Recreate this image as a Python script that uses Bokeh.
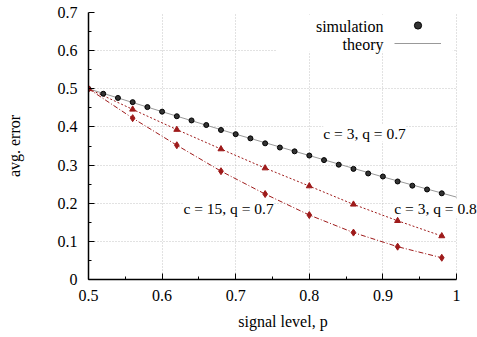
from bokeh.plotting import figure
from bokeh.models import Range1d, FixedTicker, Legend, LegendItem, Label, BoxAnnotation
from bokeh.embed import file_html
from bokeh.resources import INLINE

# ---- data ----
p_sim = [0.50, 0.52, 0.54, 0.56, 0.58, 0.60, 0.62, 0.64, 0.66, 0.68, 0.70, 0.72, 0.74,
         0.76, 0.78, 0.80, 0.82, 0.84, 0.86, 0.88, 0.90, 0.92, 0.94, 0.96, 0.98]
err_sim = [0.500, 0.487, 0.476, 0.465, 0.452, 0.440, 0.428, 0.417, 0.405, 0.392, 0.381, 0.370, 0.357,
           0.346, 0.336, 0.325, 0.313, 0.301, 0.290, 0.278, 0.270, 0.257, 0.246, 0.236, 0.226]

p_theory = [0.5, 0.6, 0.7, 0.8, 0.9, 1.0]
err_theory = [0.500, 0.440, 0.381, 0.325, 0.269, 0.216]

p_coarse = [0.50, 0.56, 0.62, 0.68, 0.74, 0.80, 0.86, 0.92, 0.98]
err_c3_q08 = [0.500, 0.446, 0.393, 0.342, 0.292, 0.245, 0.197, 0.154, 0.114]
err_c15_q07 = [0.500, 0.423, 0.352, 0.284, 0.224, 0.169, 0.123, 0.086, 0.057]

x_ticks = [0.5, 0.6, 0.7, 0.8, 0.9, 1.0]
x_tick_labels = ["0.5", "0.6", "0.7", "0.8", "0.9", "1"]
x_minor = [0.55, 0.65, 0.75, 0.85, 0.95]
y_ticks = [0.0, 0.1, 0.2, 0.3, 0.4, 0.5, 0.6, 0.7]
y_tick_labels = ["0", "0.1", "0.2", "0.3", "0.4", "0.5", "0.6", "0.7"]
y_minor = [0.05, 0.15, 0.25, 0.35, 0.45, 0.55, 0.65]

FONT = "Liberation Serif"
RED = "#9e1a1a"

# frame spans 0.5..1.0 over 368 px; it is widened to the page edge so the
# right-hand label is not clipped (axis and grids are bounded at 1.0)
X_END = 0.5 + 389 / 736

p = figure(width=477, height=337, output_backend="svg", toolbar_location=None,
           x_range=Range1d(0.5, X_END), y_range=Range1d(0.0, 0.7),
           min_border_left=88, min_border_right=0, min_border_top=12, min_border_bottom=58,
           x_axis_label="signal level, p", y_axis_label="avg. error")
p.outline_line_color = None
p.background_fill_color = "white"
p.border_fill_color = "white"

p.xaxis.ticker = FixedTicker(ticks=x_ticks, minor_ticks=x_minor)
p.yaxis.ticker = FixedTicker(ticks=y_ticks, minor_ticks=y_minor)
p.xaxis.major_label_overrides = dict(zip(x_ticks, x_tick_labels))
p.yaxis.major_label_overrides = dict(zip(y_ticks, y_tick_labels))
p.xaxis.bounds = (x_ticks[0], x_ticks[-1])

for ax in (p.xaxis[0], p.yaxis[0]):
    ax.axis_line_color = "black"
    ax.axis_line_width = 1.5
    ax.major_tick_in = 6
    ax.major_tick_out = 0
    ax.minor_tick_in = 3
    ax.minor_tick_out = 0
    ax.major_tick_line_color = "black"
    ax.minor_tick_line_color = "black"
    ax.major_label_text_font = FONT
    ax.major_label_text_font_size = "16px"
    ax.major_label_text_color = "black"
    ax.axis_label_text_font = FONT
    ax.axis_label_text_font_size = "16px"
    ax.axis_label_text_font_style = "normal"
    ax.axis_label_text_color = "black"

p.xaxis.major_label_standoff = 10
p.xaxis.axis_label_standoff = 9
p.yaxis.major_label_standoff = 11
p.yaxis.axis_label_standoff = 32

for g in (p.xgrid[0], p.ygrid[0]):
    g.grid_line_color = "#c4c4c4"
    g.grid_line_dash = "1 2"
    g.grid_line_width = 1
p.xgrid.ticker = FixedTicker(ticks=x_ticks)
p.ygrid.ticker = FixedTicker(ticks=y_ticks)
p.ygrid.cross_bounds = (x_ticks[0], x_ticks[-1])

# opaque key box (hides grid lines behind the key)
p.add_layout(BoxAnnotation(left=0.755, right=0.995, bottom=0.597, top=0.694,
                           fill_color="white", fill_alpha=1.0, line_alpha=0,
                           level="underlay"))

# theory curves
r_th = p.line(p_theory, err_theory, line_color="#999999", line_width=1)
p.line(p_coarse, err_c3_q08, line_color=RED, line_width=1, line_dash="2 2")
p.line(p_coarse, err_c15_q07, line_color=RED, line_width=1, line_dash="5 2 1 2")

# simulation points
r_sim = p.scatter(p_sim, err_sim, marker="circle", size=5, fill_color="#333333",
                  line_color="black", line_width=1)
p.scatter(p_coarse, err_c3_q08, marker="triangle", size=6, fill_color=RED, line_color=RED)
p.scatter(p_coarse, err_c15_q07, marker="diamond", size=7, fill_color=RED, line_color=RED)

# annotations
for (tx, ty, txt) in [(0.819, 0.384, "c = 3, q = 0.7"),
                      (0.9155, 0.187, "c = 3, q = 0.8"),
                      (0.629, 0.187, "c = 15, q = 0.7")]:
    p.add_layout(Label(x=tx, y=ty, text=txt, text_font=FONT, text_font_size="15.5px",
                       text_align="left", text_baseline="middle", text_color="black",
                       background_fill_color="white", background_fill_alpha=1.0))

# key: texts on the left, samples on the right
for (tx, ty, txt) in [(0.9008, 0.664, "simulation"), (0.9008, 0.617, "theory")]:
    p.add_layout(Label(x=tx, y=ty, text=txt, text_font=FONT, text_font_size="16px",
                       text_align="right", text_baseline="middle", text_color="black"))

legend = Legend(items=[LegendItem(label=" ", renderers=[r_sim]),
                       LegendItem(label=" ", renderers=[r_th])],
                location=(306, 227), glyph_width=47, glyph_height=18, label_height=18,
                spacing=0, padding=0, margin=0, label_standoff=0,
                border_line_alpha=0, background_fill_alpha=0,
                label_text_font_size="4px")
p.add_layout(legend)

open("out.html", "w").write(file_html(p, INLINE))
